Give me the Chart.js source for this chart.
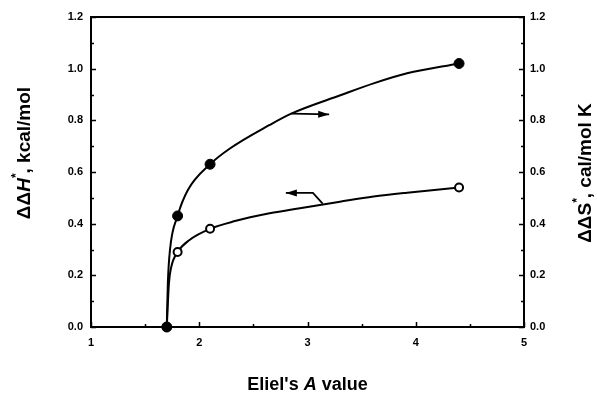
<!DOCTYPE html>
<html>
<head>
<meta charset="utf-8">
<script src="https://cdn.jsdelivr.net/npm/chart.js@4/dist/chart.umd.min.js"></script>
<style>
  html, body { margin: 0; padding: 0; background: #fff; }
  #wrap { width: 597px; height: 394px; position: relative; }
</style>
</head>
<body>
<div id="wrap"><canvas id="c" width="597" height="394"></canvas></div>
<script>
// Measured points: Eliel's A value vs. activation differences
const aValue = [1.70, 1.80, 2.10, 4.40];
const ddH = [0.00, 0.29, 0.38, 0.54];   // kcal/mol, left axis (open circles)
const ddS = [0.00, 0.43, 0.63, 1.02];   // cal/mol K, right axis (filled circles)

// Smooth guide curves drawn through the points
const curveHx = [1.70, 1.72, 1.74, 1.80, 1.91, 2.10, 2.33, 2.65, 2.93, 3.30, 3.61, 3.92, 4.40];
const curveHy = [0.00, 0.17, 0.23, 0.29, 0.337, 0.38, 0.41, 0.44, 0.46, 0.485, 0.505, 0.52, 0.54];
const curveSx = [1.70, 1.71, 1.73, 1.80, 1.895, 2.10, 2.28, 2.65, 2.85, 3.31, 3.61, 3.92, 4.40];
const curveSy = [0.00, 0.17, 0.30, 0.43, 0.53, 0.63, 0.69, 0.782, 0.826, 0.898, 0.943, 0.982, 1.02];

// Arrows pointing each curve to its axis: [x, y] in data units (left-axis scale)
const arrowS = [[2.85, 0.826], [3.20, 0.823]];
const arrowH = [[3.14, 0.478], [3.05, 0.519], [2.80, 0.519]];

// Tick values
const xTicks = [1, 2, 3, 4, 5];
const xMinor = [1.5, 2.5, 3.5, 4.5];
const yTicks = [0, 0.2, 0.4, 0.6, 0.8, 1.0, 1.2];
const yMinor = [0.1, 0.3, 0.5, 0.7, 0.9, 1.1];

const FONT = "'Liberation Sans', Arial, Helvetica, sans-serif";

function pts(xs, ys) { return xs.map((x, i) => ({ x: x, y: ys[i] })); }

function drawRich(ctx, parts, x, y, angle, size) {
  ctx.save();
  ctx.translate(x, y);
  ctx.rotate(angle);
  ctx.textBaseline = 'middle';
  ctx.textAlign = 'left';
  ctx.fillStyle = '#000';
  const fontFor = p => (p.italic ? 'italic ' : '') + 'bold ' + (p.sup ? Math.round(size * 0.62) : size) + 'px ' + FONT;
  let total = 0;
  parts.forEach(p => { ctx.font = fontFor(p); total += ctx.measureText(p.t).width; });
  let cx = -total / 2;
  parts.forEach(p => {
    ctx.font = fontFor(p);
    ctx.fillText(p.t, cx, p.sup ? -size * 0.42 : 0);
    cx += ctx.measureText(p.t).width;
  });
  ctx.restore();
}

function arrowHead(ctx, fx, fy, tx, ty, len, half) {
  const ang = Math.atan2(ty - fy, tx - fx);
  ctx.beginPath();
  ctx.moveTo(tx, ty);
  ctx.lineTo(tx - len * Math.cos(ang) + half * Math.sin(ang), ty - len * Math.sin(ang) - half * Math.cos(ang));
  ctx.lineTo(tx - len * Math.cos(ang) - half * Math.sin(ang), ty - len * Math.sin(ang) + half * Math.cos(ang));
  ctx.closePath();
  ctx.fill();
}

const framePlugin = {
  id: 'frame',
  beforeDatasetsDraw(chart) {
    const { ctx, chartArea: a, scales } = chart;
    ctx.save();
    ctx.strokeStyle = '#000';
    ctx.lineWidth = 2;
    ctx.strokeRect(a.left, a.top, a.right - a.left, a.bottom - a.top);
    ctx.lineWidth = 1.5;
    ctx.beginPath();
    // inward ticks on left and right axes
    yTicks.concat(yMinor).forEach(v => {
      const major = yTicks.includes(v);
      const py = Math.round(scales.y.getPixelForValue(v)) + 0.5;
      const len = major ? 5 : 3;
      ctx.moveTo(a.left, py); ctx.lineTo(a.left + len, py);
      ctx.moveTo(a.right, py); ctx.lineTo(a.right - len, py);
    });
    // inward ticks on bottom axis
    xTicks.concat(xMinor).forEach(v => {
      const major = xTicks.includes(v);
      const px = Math.round(scales.x.getPixelForValue(v)) + 0.5;
      const len = major ? 5 : 3;
      ctx.moveTo(px, a.bottom); ctx.lineTo(px, a.bottom - len);
    });
    ctx.stroke();
    ctx.restore();
  },
  afterDatasetsDraw(chart) {
    const { ctx, scales } = chart;
    const X = v => scales.x.getPixelForValue(v);
    const Y = v => scales.y.getPixelForValue(v);
    ctx.save();
    ctx.strokeStyle = '#000';
    ctx.fillStyle = '#000';
    ctx.lineWidth = 1.8;
    [arrowS, arrowH].forEach(path => {
      ctx.beginPath();
      path.forEach((p, i) => {
        const px = X(p[0]), py = Y(p[1]);
        if (i === 0) ctx.moveTo(px, py); else ctx.lineTo(px, py);
      });
      ctx.stroke();
      const n = path.length;
      arrowHead(ctx, X(path[n - 2][0]), Y(path[n - 2][1]), X(path[n - 1][0]), Y(path[n - 1][1]), 11, 3.5);
    });
    ctx.restore();
  },
  afterDraw(chart) {
    const { ctx, chartArea: a } = chart;
    // axis titles
    drawRich(ctx, [{ t: 'ΔΔ' }, { t: 'H', italic: true }, { t: '*', sup: true }, { t: ', kcal/mol' }],
      25, 153, -Math.PI / 2, 19);
    drawRich(ctx, [{ t: 'ΔΔS' }, { t: '*', sup: true }, { t: ', cal/mol K' }],
      586, 173, -Math.PI / 2, 19);
    drawRich(ctx, [{ t: "Eliel's " }, { t: 'A', italic: true }, { t: ' value' }],
      (a.left + a.right) / 2, 385, 0, 18);
  }
};

const tickFont = { family: FONT, size: 11, weight: 'bold' };

new Chart(document.getElementById('c'), {
  type: 'scatter',
  data: {
    datasets: [
      {
        label: 'ΔΔS*', data: pts(aValue, ddS), yAxisID: 'y2',
        pointRadius: 5, pointBackgroundColor: '#000', pointBorderColor: '#000', pointBorderWidth: 1, clip: false
      },
      {
        label: 'ΔΔH*', data: pts(aValue, ddH), yAxisID: 'y',
        pointRadius: 4, pointBackgroundColor: '#fff', pointBorderColor: '#000', pointBorderWidth: 2, clip: false
      },
      {
        label: 'ΔΔS* curve', data: pts(curveSx, curveSy), yAxisID: 'y2',
        showLine: true, borderColor: '#000', borderWidth: 2, pointRadius: 0,
        cubicInterpolationMode: 'monotone', clip: false
      },
      {
        label: 'ΔΔH* curve', data: pts(curveHx, curveHy), yAxisID: 'y',
        showLine: true, borderColor: '#000', borderWidth: 2, pointRadius: 0,
        cubicInterpolationMode: 'monotone', clip: false
      }
    ]
  },
  options: {
    responsive: false,
    animation: false,
    events: [],
    layout: { padding: { top: 17 } },
    plugins: { legend: { display: false }, tooltip: { enabled: false } },
    scales: {
      x: {
        type: 'linear', min: 1, max: 5,
        afterBuildTicks: s => { s.ticks = xTicks.map(v => ({ value: v })); },
        afterFit: s => { s.height = 67; },
        grid: { display: false, drawTicks: false },
        border: { display: false },
        ticks: { font: tickFont, color: '#000', padding: 9, callback: v => String(v) }
      },
      y: {
        type: 'linear', position: 'left', min: 0, max: 1.2,
        afterBuildTicks: s => { s.ticks = yTicks.map(v => ({ value: v })); },
        afterFit: s => { s.width = 91; },
        grid: { display: false, drawTicks: false },
        border: { display: false },
        ticks: { font: tickFont, color: '#000', padding: 8, callback: v => v.toFixed(1) }
      },
      y2: {
        type: 'linear', position: 'right', min: 0, max: 1.2,
        afterBuildTicks: s => { s.ticks = yTicks.map(v => ({ value: v })); },
        afterFit: s => { s.width = 73; },
        grid: { display: false, drawTicks: false },
        border: { display: false },
        ticks: { font: tickFont, color: '#000', padding: 6, callback: v => v.toFixed(1) }
      }
    }
  },
  plugins: [framePlugin]
});
</script>
</body>
</html>
